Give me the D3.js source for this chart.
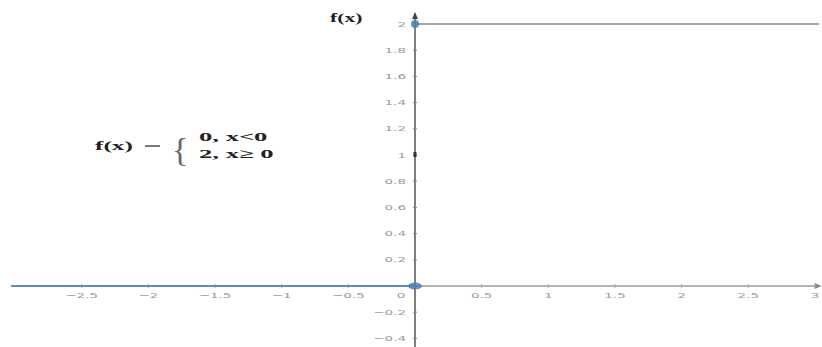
<!DOCTYPE html>
<html><head><meta charset="utf-8">
<script src="https://cdn.jsdelivr.net/npm/d3@7"></script>
<style>body{margin:0;background:#fff}svg{display:block}</style>
</head><body>
<svg id="c" width="822" height="347"></svg>
<script>
const xTicks = [-2.5, -2, -1.5, -1, -0.5, 0.5, 1, 1.5, 2, 2.5, 3];
const xTickLabels = ["−2.5", "−2", "−1.5", "−1", "−0.5", "0.5", "1", "1.5", "2", "2.5", "3"];
const yTicks = [-0.4, -0.2, 0.2, 0.4, 0.6, 0.8, 1, 1.2, 1.4, 1.6, 1.8, 2];
const yTickLabels = ["−0.4", "−0.2", "0.2", "0.4", "0.6", "0.8", "1", "1.2", "1.4", "1.6", "1.8", "2"];
const pieceLeft = [[-3.03, 0], [0, 0]];
const pieceRight = [[0, 2], [3.03, 2]];
const points = [{x: 0, y: 0, open: true}, {x: 0, y: 2, open: false}];
const formulaLines = ["0, x<0", "2, x≥ 0"];

const svg = d3.select("#c");
const x = d3.scaleLinear().domain([0, 3]).range([415, 815]);
const y = d3.scaleLinear().domain([0, 2]).range([286, 24]);

function stext(g, px, py, s, anchor, sx) {
  return g.append("text").attr("transform", `translate(${px},${py}) scale(${sx || 1.8},1)`)
    .attr("text-anchor", anchor || "start").text(s);
}

// x axis
svg.append("line").attr("x1", x(-3.03)).attr("x2", x(3.02)).attr("y1", y(0)).attr("y2", y(0))
  .attr("stroke", "#9a9a9a").attr("stroke-width", 1.5);
svg.append("path").attr("d", `M${x(3.02)+4},${y(0)} l-7,-3 l0,6 z`).attr("fill", "#888");
// y axis
svg.append("line").attr("x1", x(0)).attr("x2", x(0)).attr("y1", 14).attr("y2", 347)
  .attr("stroke", "#555").attr("stroke-width", 1.5);
svg.append("path").attr("d", `M${x(0)},${12} l-3,7 l6,0 z`).attr("fill", "#444");

const tx = svg.append("g").attr("font-family", "DejaVu Sans, sans-serif").attr("font-size", 7.5).attr("fill", "#999");
xTicks.forEach((t, i) => {
  svg.append("line").attr("x1", x(t)).attr("x2", x(t)).attr("y1", y(0) - 2).attr("y2", y(0) + 2).attr("stroke", "#aaa");
  stext(tx, x(t), y(0) + 12, xTickLabels[i], "middle");
});
stext(tx, x(0) - 14, y(0) + 12, "0", "middle");
yTicks.forEach((t, i) => {
  svg.append("line").attr("x1", x(0) - 2).attr("x2", x(0) + 2).attr("y1", y(t)).attr("y2", y(t)).attr("stroke", "#888");
  stext(tx, x(0) - 9, y(t) + 2.5, yTickLabels[i], "end");
});
svg.append("rect").attr("x", x(0) - 1.5).attr("y", y(1) - 3).attr("width", 3).attr("height", 5).attr("fill", "#333");

const line = d3.line().x(d => x(d[0])).y(d => y(d[1]));
svg.append("path").attr("d", line(pieceLeft)).attr("stroke", "#4a7fb5").attr("stroke-width", 1.6).attr("fill", "none");
svg.append("path").attr("d", line(pieceRight)).attr("stroke", "#7a8a9a").attr("stroke-width", 1.6).attr("fill", "none");

points.forEach(p => {
  svg.append("ellipse").attr("cx", x(p.x)).attr("cy", y(p.y)).attr("rx", p.open ? 7 : 4).attr("ry", p.open ? 3.5 : 4)
    .attr("fill", "#4a7fb5").attr("opacity", 0.85);
});

const serif = "Liberation Serif, serif";
const ft = svg.append("g").attr("font-family", serif).attr("font-weight", "bold").attr("fill", "#222");
stext(ft, 330, 22, "f(x)", "start", 1.8).attr("font-size", 12);
stext(ft, 95, 150, "f(x)", "start", 1.95).attr("font-size", 13);
svg.append("line").attr("x1", 145).attr("x2", 160).attr("y1", 146).attr("y2", 146).attr("stroke", "#333").attr("stroke-width", 1.3);
svg.append("text").attr("x", 172).attr("y", 161).attr("font-family", serif)
  .attr("font-size", 34).attr("fill", "#666").text("{");
formulaLines.forEach((s, i) => {
  stext(ft, 199, 141 + i * 17, s, "start", 2.05).attr("font-size", 13);
});
</script>
</body></html>
